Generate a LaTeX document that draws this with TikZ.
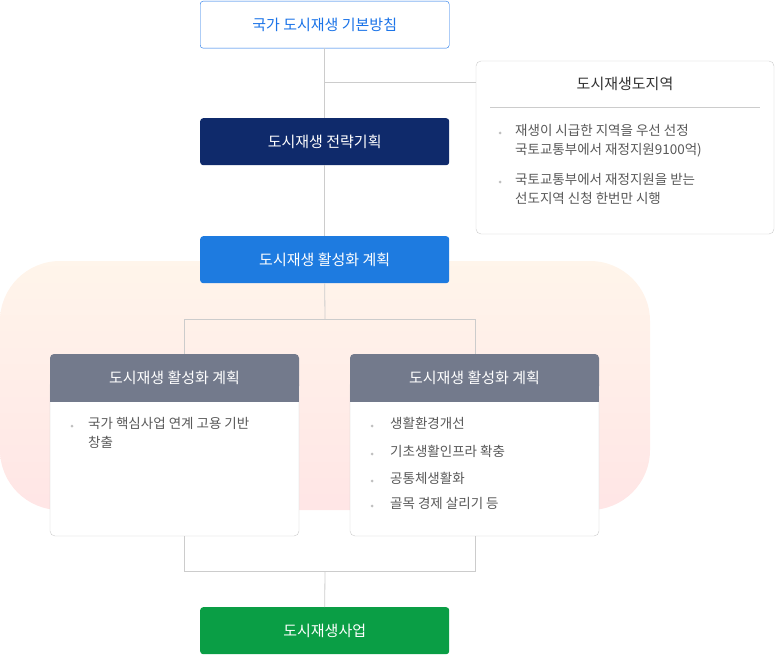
\documentclass[tikz,border=0pt]{standalone}
\usepackage{fontspec}
\setmainfont{Noto Sans CJK KR}
\begin{document}
\begin{tikzpicture}[x=1pt,y=-1pt,
  ln/.style={draw=black!20,line width=0.8pt},
  mainbox/.style={minimum width=249pt,minimum height=47pt,rounded corners=3pt,font=\fontsize{15}{18}\selectfont,anchor=north west,inner sep=0pt},
  bul/.style={anchor=north west,font=\fontsize{13.5}{19}\selectfont,text=black!65,align=left,inner sep=0pt},
  dot/.style={circle,fill=black!25,inner sep=0pt,minimum size=3pt}]
\useasboundingbox (0,0) rectangle (775,655);
\definecolor{topblue}{HTML}{1A73E8}
\definecolor{navy}{HTML}{0F2A6B}
\definecolor{midblue}{HTML}{1E7BE0}
\definecolor{hgray}{HTML}{737A8C}
\definecolor{grn}{HTML}{0A9E45}
% background
\shade[top color=orange!8,bottom color=red!10,rounded corners=60pt] (0,261) rectangle (650,510);
% lines
\node[mainbox,draw=topblue,fill=white,text=topblue] (a) at (200,1) {국가 도시재생 기본방침};
\node[mainbox,fill=navy,text=white] (b) at (200,118) {도시재생 전략기획};
\node[mainbox,fill=midblue,text=white] (c) at (200,236) {도시재생 활성화 계획};
\node[mainbox,fill=grn,text=white] (g) at (200,607) {도시재생사업};
% right box
\draw[draw=black!20,fill=white,rounded corners=5pt] (476,61) rectangle (774,234);
\coordinate (rb) at (476,82);
\node[font=\fontsize{15}{18}\selectfont,text=black!80] (rt) at (625,84) {도시재생도지역};
\draw[black!20] (490,107) -- (760,107);
\node[dot] at (500,133) {};
\node[bul] (r1) at (515,124) {재생이 시급한 지역을 우선 선정\\국토교통부에서 재정지원9100억)};
\node[dot] at (500,182) {};
\node[bul] (r2) at (515,173) {국토교통부에서 재정지원을 받는\\선도지역 신청 한번만 시행};
\draw[ln] (a.south) -- (b.north);
\draw[ln] (325,82) -- (rb);
\draw[ln] (b.south) -- (c.north);
% sub boxes
\foreach \x/\n in {50/L,350/R}{
  \draw[draw=black!20,fill=white,rounded corners=5pt] (\x,380) rectangle (\x+249,536);
  \fill[hgray,rounded corners=4pt] (\x,354) rectangle (\x+249,390);
  \fill[hgray] (\x,380) rectangle (\x+249,402);
  \node[font=\fontsize{15}{18}\selectfont,text=white] (h\n) at (\x+124.5,378) {도시재생 활성화 계획};
}
\coordinate (lt) at (184,354);\coordinate (rt2) at (475,354);
\draw[ln] (c.south) -- (325,319);
\draw[ln] (lt) -- (184,319) -- (475,319) -- (rt2);
\node[dot] at (72,426) {};
\node[bul] at (88,417) {국가 핵심사업 연계 고용 기반\\창출};
\foreach \y/\t in {426/생활환경개선,454/기초생활인프라 확충,481/공통체생활화,506/골목 경제 살리기 등}{
  \node[dot] at (372,\y) {};
  \node[bul] at (390,\y-9) {\t};
}
\draw[ln] (184,536) -- (184,571) -- (475,571) -- (475,536);
\draw[ln] (325,571) -- (g.north);
\end{tikzpicture}
\end{document}
